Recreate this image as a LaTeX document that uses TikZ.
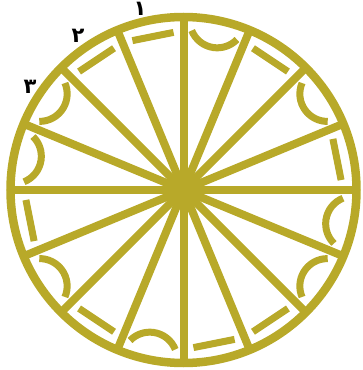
\documentclass[tikz,border=0pt]{standalone}
\usepackage{fontspec}
\newfontfamily\arabicfont[Script=Arabic]{DejaVu Sans}
\definecolor{gold}{RGB}{184,169,41}
\begin{document}
\begin{tikzpicture}[x=1pt,y=1pt,
  rim/.style={draw=gold,line width=8.5pt},
  spoke/.style={draw=gold,line width=8pt},
  seg/.style={draw=gold,line width=7pt},
  num/.style={font=\arabicfont\bfseries\fontsize{21}{21}\selectfont,inner sep=0pt,text=black}]
\useasboundingbox (0,0) rectangle (362,370);
\coordinate (C) at (183.5,180);
% spokes
\foreach \a in {0,22.5,...,337.5} \draw[spoke] (C) -- ++(\a:173);
\fill[gold] (C) circle (16);
% rim
\draw[rim] (C) circle (173);
% straight dashes
\foreach \m in {56.25,11.25,-56.25,-78.75,-123.75,-168.75,123.75,101.25}
  \draw[seg,shift={(C)}] (\m:156.5) ++(\m+90:21) -- ++(\m-90:42);
% inward arcs
\foreach \m in {78.75,33.75,-11.25,-33.75,-101.25,-146.25,168.75,146.25}
  \draw[seg,shift={(C)}] (\m:173) ++(\m+123:27.5) arc[start angle=\m+123, end angle=\m+237, radius=27.5];
% labels
\node[num] (n1) at (140,361.5) {١};
\node[num] (n2) at (78,334) {٢};
\node[num] (n3) at (30,283) {٣};
\end{tikzpicture}
\end{document}
